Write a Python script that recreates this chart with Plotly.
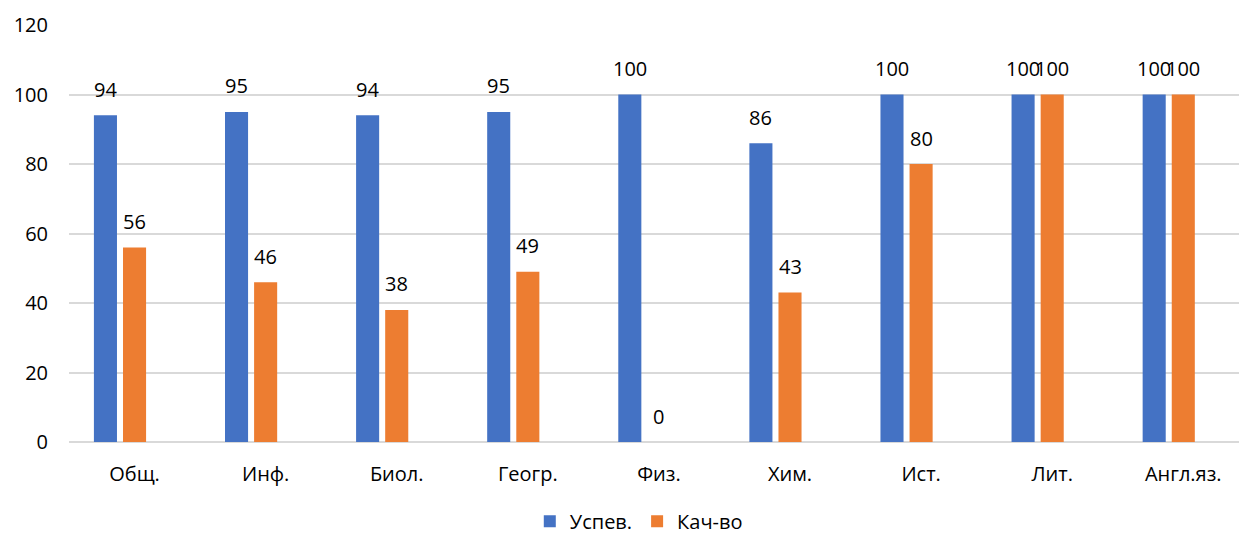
import plotly.graph_objects as go

categories = ["Общ.", "Инф.", "Биол.", "Геогр.", "Физ.", "Хим.", "Ист.", "Лит.", "Англ.яз."]
uspev = [94, 95, 94, 95, 100, 86, 100, 100, 100]
kachvo = [56, 46, 38, 49, 0, 43, 80, 100, 100]
y_ticks = [0, 20, 40, 60, 80, 100, 120]

BLUE = "#4472C4"
ORANGE = "#ED7D31"
FONT = "Open Sans"
BAR_W = 0.176
OFF_BLUE = -0.31
OFF_ORANGE = -0.088

fig = go.Figure()
fig.add_trace(go.Bar(x=categories, y=uspev, name="Успев.", marker=dict(color=BLUE, line=dict(width=0)),
                     width=BAR_W, offset=OFF_BLUE))
fig.add_trace(go.Bar(x=categories, y=kachvo, name="Кач-во", marker=dict(color=ORANGE, line=dict(width=0)),
                     width=BAR_W, offset=OFF_ORANGE))

annotations = []
for vals, off in ((uspev, OFF_BLUE), (kachvo, OFF_ORANGE)):
    for i, v in enumerate(vals):
        annotations.append(dict(x=i + off + BAR_W / 2, y=v, xref="x", yref="y", text=str(v),
                                showarrow=False, yanchor="middle", yshift=26,
                                font=dict(family=FONT, size=20, color="#000000")))

fig.update_layout(
    width=1239, height=536,
    margin=dict(l=69, r=0, t=25, b=94, autoexpand=False),
    paper_bgcolor="white", plot_bgcolor="white",
    font=dict(family=FONT, size=20, color="#000000"),
    barmode="group",
    showlegend=True,
    legend=dict(orientation="h", x=0.487, xanchor="center", y=-0.19, yanchor="middle",
                font=dict(family=FONT, size=20, color="#000000"), itemwidth=30),
    annotations=annotations,
    xaxis=dict(type="category", range=[-0.5, 8.425], showgrid=False, showline=False, zeroline=False,
               ticks="", tickfont=dict(size=20), ticklabelstandoff=18, automargin=False),
    yaxis=dict(range=[0, 120], tickvals=y_ticks, showgrid=True, gridcolor="#D9D9D9", gridwidth=1.5,
               zeroline=True, zerolinecolor="#D9D9D9", zerolinewidth=1.5, showline=False,
               ticks="", tickfont=dict(size=20), ticklabelstandoff=20, automargin=False),
)

fig.write_html("out.html", config={"displayModeBar": False},
               post_script="document.body.style.margin='0px';document.body.style.overflow='hidden';")
